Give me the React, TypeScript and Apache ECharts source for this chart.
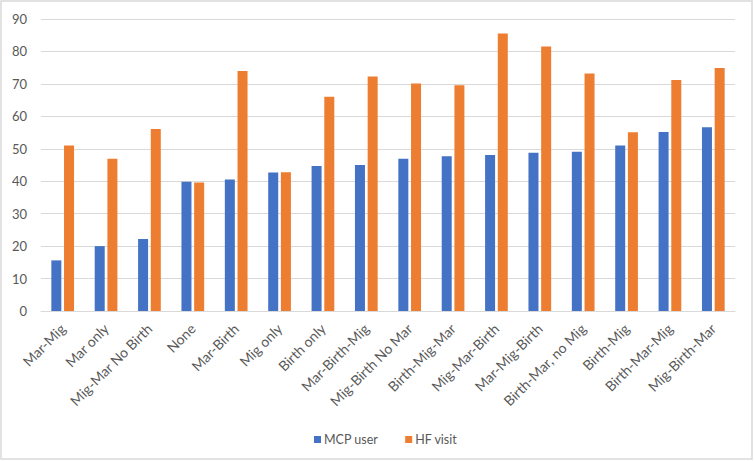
import React, { useEffect, useRef } from "react";
import * as echarts from "echarts";

const categories = [
  "Mar-Mig",
  "Mar only",
  "Mig-Mar No Birth",
  "None",
  "Mar-Birth",
  "Mig only",
  "Birth only",
  "Mar-Birth-Mig",
  "Mig-Birth No Mar",
  "Birth-Mig-Mar",
  "Mig-Mar-Birth",
  "Mar-Mig-Birth",
  "Birth-Mar, no Mig",
  "Birth-Mig",
  "Birth-Mar-Mig",
  "Mig-Birth-Mar",
];

const mcpUser = [15.6, 20.0, 22.2, 39.8, 40.5, 42.7, 44.7, 45.0, 46.9, 47.7, 48.1, 48.8, 49.1, 51.0, 55.2, 56.6];
const hfVisit = [51.0, 46.9, 56.1, 39.6, 74.0, 42.8, 66.0, 72.3, 70.1, 69.6, 85.5, 81.5, 73.2, 55.1, 71.2, 74.9];

const FONT = "Lato, 'Open Sans', sans-serif";

export default function App() {
  const ref = useRef<HTMLDivElement>(null);
  useEffect(() => {
    document.body.style.margin = "0";
    const chart = echarts.init(ref.current!, null, { renderer: "svg" });
    chart.setOption({
      animation: false,
      backgroundColor: "#ffffff",
      textStyle: { fontFamily: FONT },
      graphic: [
        {
          type: "rect",
          shape: { x: 1, y: 1, width: 751, height: 458 },
          style: { fill: "none", stroke: "#d9d9d9", lineWidth: 1.5 },
          silent: true,
        },
      ],
      grid: { left: 41, right: 19, top: 19, bottom: 150, containLabel: false },
      legend: {
        data: ["MCP user", "HF visit"],
        top: 428,
        left: 309,
        icon: "rect",
        itemWidth: 7,
        itemHeight: 7,
        itemGap: 27,
        textStyle: { fontSize: 12.5, color: "#595959", fontFamily: FONT, padding: [0, 0, 0, -2] },
      },
      xAxis: {
        type: "category",
        data: categories,
        axisLine: { lineStyle: { color: "#d9d9d9", width: 1 } },
        axisTick: { show: false },
        axisLabel: {
          rotate: 45,
          interval: 0,
          margin: 15,
          fontSize: 14,
          color: "#595959",
          fontFamily: FONT,
        },
      },
      yAxis: {
        type: "value",
        min: 0,
        max: 90,
        interval: 10,
        axisLine: { show: false },
        axisTick: { show: false },
        splitLine: { lineStyle: { color: "#d9d9d9", width: 1 } },
        axisLabel: { fontSize: 13, color: "#595959", margin: 14, fontFamily: FONT },
      },
      series: [
        {
          name: "MCP user",
          type: "bar",
          data: mcpUser,
          barWidth: 10,
          barGap: "27%",
          itemStyle: { color: "#4472C4" },
        },
        {
          name: "HF visit",
          type: "bar",
          data: hfVisit,
          barWidth: 10,
          barGap: "27%",
          itemStyle: { color: "#ED7D31" },
        },
      ],
    });
    return () => chart.dispose();
  }, []);
  return (
    <div
      ref={ref}
      style={{ position: "fixed", left: 0, top: 0, width: 754, height: 461, background: "#fff" }}
    />
  );
}
